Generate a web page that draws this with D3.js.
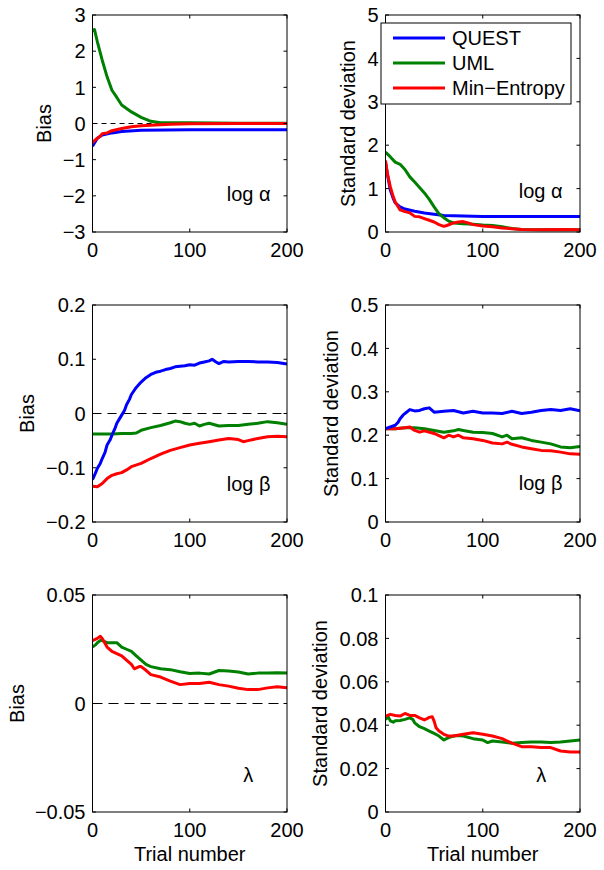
<!DOCTYPE html>
<html><head><meta charset="utf-8">
<script src="https://cdn.jsdelivr.net/npm/d3@7"></script>
<style>body{margin:0;background:#fff}svg{display:block}text{font-family:"Liberation Sans",Arial,Helvetica,sans-serif;fill:#000}</style>
</head><body>
<script>
// ---------- data ----------
const seriesNames = ["QUEST", "UML", "Min\u2212Entropy"];
const xTicks = [0, 100, 200];

// Panel 1: bias, log alpha
const biasAlphaQuestX = [0,3,5,10,20,30,50,100,150,200];
const biasAlphaQuestY = [-0.63,-0.5,-0.41,-0.32,-0.26,-0.22,-0.19,-0.17,-0.17,-0.17];
const biasAlphaUmlX = [0,2,5,10,15,20,25,30,40,50,60,70,80,100,150,200];
const biasAlphaUmlY = [2.55,2.6,2.26,1.75,1.29,0.92,0.72,0.51,0.32,0.17,0.06,0.02,0.02,0.02,0.01,0.01];
const biasAlphaMeX = [0,3,8,10,15,20,30,40,50,60,80,100,150,200];
const biasAlphaMeY = [-0.53,-0.45,-0.35,-0.28,-0.26,-0.2,-0.14,-0.09,-0.065,-0.05,-0.02,-0.01,0,0];

// Panel 2: SD, log alpha
const sdAlphaQuestX = [0,3,5,8,10,15,20,30,40,50,60,80,100,150,200];
const sdAlphaQuestY = [1.6,1.2,0.96,0.77,0.67,0.58,0.53,0.48,0.44,0.41,0.38,0.37,0.36,0.36,0.36];
const sdAlphaUmlX = [0,5,10,15,20,25,30,40,45,50,55,60,65,70,80,90,100,110,120,130,140,160,200];
const sdAlphaUmlY = [1.84,1.73,1.61,1.56,1.44,1.27,1.15,0.9,0.75,0.58,0.42,0.33,0.25,0.21,0.19,0.18,0.16,0.15,0.12,0.08,0.06,0.05,0.05];
const sdAlphaMeX = [0,2,5,8,10,15,20,25,30,35,40,45,50,55,60,63,70,75,80,85,90,100,110,120,140,160,180,200];
const sdAlphaMeY = [1.65,1.34,1.04,0.81,0.69,0.51,0.47,0.44,0.36,0.35,0.31,0.27,0.23,0.17,0.13,0.15,0.21,0.23,0.24,0.21,0.17,0.14,0.12,0.09,0.06,0.05,0.06,0.05];

// Panel 3: bias, log beta
const biasBetaQuestX = [0,3,5,8,10,13,15,18,20,23,25,28,30,33,35,38,40,45,50,55,60,65,70,75,80,85,90,95,100,105,110,115,120,123,127,130,135,140,150,160,170,180,190,200];
const biasBetaQuestY = [-0.122,-0.11,-0.101,-0.092,-0.083,-0.071,-0.058,-0.049,-0.04,-0.028,-0.018,-0.009,-0.003,0.006,0.016,0.026,0.035,0.048,0.058,0.066,0.072,0.076,0.078,0.081,0.083,0.086,0.087,0.088,0.09,0.089,0.093,0.095,0.097,0.1,0.095,0.092,0.096,0.095,0.096,0.096,0.095,0.095,0.094,0.091];
const biasBetaUmlX = [0,10,20,30,40,45,50,60,70,80,85,90,95,100,105,110,115,120,130,140,150,160,170,180,190,200];
const biasBetaUmlY = [-0.038,-0.038,-0.038,-0.037,-0.037,-0.036,-0.031,-0.026,-0.022,-0.017,-0.014,-0.015,-0.018,-0.02,-0.018,-0.023,-0.02,-0.018,-0.023,-0.022,-0.022,-0.02,-0.018,-0.015,-0.017,-0.02];
const biasBetaMeX = [0,5,10,15,20,25,30,35,40,50,60,70,80,90,100,110,120,130,140,150,155,160,170,180,190,200];
const biasBetaMeY = [-0.134,-0.135,-0.129,-0.12,-0.114,-0.111,-0.109,-0.104,-0.098,-0.092,-0.083,-0.075,-0.068,-0.063,-0.058,-0.055,-0.052,-0.049,-0.046,-0.048,-0.052,-0.05,-0.046,-0.043,-0.042,-0.043];

// Panel 4: SD, log beta
const sdBetaQuestX = [0,5,10,13,15,18,20,25,30,35,40,45,50,60,70,80,90,100,110,120,130,140,150,160,170,180,190,200];
const sdBetaQuestY = [0.215,0.219,0.223,0.23,0.238,0.246,0.25,0.259,0.256,0.257,0.261,0.263,0.253,0.255,0.257,0.251,0.255,0.251,0.251,0.25,0.255,0.25,0.253,0.257,0.259,0.257,0.261,0.256];
const sdBetaUmlX = [0,10,20,30,40,50,60,70,75,80,90,100,110,120,125,130,140,150,160,170,180,190,200];
const sdBetaUmlY = [0.215,0.215,0.217,0.217,0.215,0.211,0.207,0.21,0.213,0.211,0.207,0.206,0.204,0.196,0.2,0.192,0.194,0.188,0.184,0.18,0.173,0.171,0.174];
const sdBetaMeX = [0,10,20,25,30,35,40,50,60,65,70,75,80,90,100,110,120,125,130,140,150,160,170,180,190,200];
const sdBetaMeY = [0.215,0.215,0.217,0.219,0.211,0.207,0.21,0.204,0.194,0.2,0.196,0.2,0.194,0.192,0.188,0.182,0.18,0.184,0.179,0.173,0.169,0.165,0.164,0.161,0.157,0.156];

// Panel 5: bias, lambda
const biasLambdaUmlX = [0,3,5,8,10,15,20,25,30,35,40,45,50,55,60,70,80,90,100,110,120,130,140,150,160,170,180,190,200];
const biasLambdaUmlY = [0.026,0.027,0.028,0.029,0.029,0.028,0.028,0.028,0.026,0.025,0.024,0.022,0.020,0.018,0.017,0.016,0.0156,0.0146,0.0138,0.014,0.0136,0.0152,0.015,0.0145,0.0136,0.014,0.014,0.0142,0.014];
const biasLambdaMeX = [0,5,8,10,15,20,25,30,35,40,43,48,50,55,60,70,80,90,100,110,120,130,140,150,160,170,180,190,200];
const biasLambdaMeY = [0.029,0.03,0.031,0.030,0.026,0.024,0.023,0.022,0.020,0.018,0.016,0.017,0.017,0.0153,0.0133,0.0122,0.0103,0.0087,0.0092,0.0092,0.0098,0.0087,0.008,0.007,0.0064,0.0064,0.0072,0.0077,0.0072];

// Panel 6: SD, lambda
const sdLambdaUmlX = [0,3,5,8,10,15,20,25,28,30,35,40,45,50,55,60,65,70,75,80,90,100,105,110,120,130,140,150,160,170,180,190,200];
const sdLambdaUmlY = [0.0427,0.0437,0.042,0.0414,0.042,0.0422,0.0427,0.0434,0.0427,0.0411,0.0393,0.0384,0.0373,0.0362,0.035,0.0332,0.0343,0.035,0.0353,0.035,0.0338,0.0332,0.032,0.0327,0.0323,0.0317,0.032,0.0323,0.0323,0.032,0.0323,0.0327,0.0332];
const sdLambdaMeX = [0,5,10,15,20,25,30,35,40,45,48,50,52,55,60,65,70,80,90,100,110,120,130,140,150,160,170,180,190,200];
const sdLambdaMeY = [0.0442,0.045,0.0445,0.0442,0.0454,0.0445,0.0445,0.0434,0.0424,0.0436,0.0439,0.0419,0.0388,0.0373,0.0358,0.035,0.035,0.0358,0.0365,0.0358,0.035,0.0338,0.0317,0.0301,0.0301,0.0297,0.0297,0.0281,0.0277,0.0277];

// tick values and labels per panel
const yTicks1 = [-3,-2,-1,0,1,2,3];
const yTicks2 = [0,1,2,3,4,5];
const yTicks3 = [-0.2,-0.1,0,0.1,0.2];
const yTicks4 = [0,0.1,0.2,0.3,0.4,0.5];
const yTicks5 = [-0.05,0,0.05];
const yTicks6 = [0,0.02,0.04,0.06,0.08,0.1];
const yLabels = ["Bias","Standard deviation","Bias","Standard deviation","Bias","Standard deviation"];
const paramLabels = ["log \u03b1","log \u03b1","log \u03b2","log \u03b2","\u03bb","\u03bb"];
const paramLabelX = [138,137,138,137,155,155];
const paramLabelY = [-2.14,0.78,-0.143,0.074,-0.036,0.0138];
const xLabel = "Trial number";

// ---------- layout / style ----------
const W = 604, H = 870;
const colors = ["#0000ff", "#008000", "#ff0000"];
const panelLeft = [92.5, 385.5], panelTop = [15, 305, 595];
const pw = 194.5, ph = 217;
const fmt = v => d3.format("~")(v);

const panels = [
  {col:0,row:0,domain:[-3,3],ticks:yTicks1,zero:true,dash:"5,4",labelX:44,
   series:[[biasAlphaQuestX,biasAlphaQuestY,0],[biasAlphaUmlX,biasAlphaUmlY,1],[biasAlphaMeX,biasAlphaMeY,2]]},
  {col:1,row:0,domain:[0,5],ticks:yTicks2,zero:false,labelX:348,legend:true,
   series:[[sdAlphaQuestX,sdAlphaQuestY,0],[sdAlphaUmlX,sdAlphaUmlY,1],[sdAlphaMeX,sdAlphaMeY,2]]},
  {col:0,row:1,domain:[-0.2,0.2],ticks:yTicks3,zero:true,dash:"9,6",labelX:27,
   series:[[biasBetaUmlX,biasBetaUmlY,1],[biasBetaMeX,biasBetaMeY,2],[biasBetaQuestX,biasBetaQuestY,0]]},
  {col:1,row:1,domain:[0,0.5],ticks:yTicks4,zero:false,labelX:331,
   series:[[sdBetaUmlX,sdBetaUmlY,1],[sdBetaMeX,sdBetaMeY,2],[sdBetaQuestX,sdBetaQuestY,0]]},
  {col:0,row:2,domain:[-0.05,0.05],ticks:yTicks5,zero:true,dash:"10,6",labelX:17,xlab:true,
   series:[[biasLambdaUmlX,biasLambdaUmlY,1],[biasLambdaMeX,biasLambdaMeY,2]]},
  {col:1,row:2,domain:[0,0.1],ticks:yTicks6,zero:false,labelX:320,xlab:true,
   series:[[sdLambdaUmlX,sdLambdaUmlY,1],[sdLambdaMeX,sdLambdaMeY,2]]}
];

const svg = d3.select("body").append("svg").attr("width",W).attr("height",H);

panels.forEach((p,i) => {
  const L = panelLeft[p.col], T = panelTop[p.row];
  const x = d3.scaleLinear().domain([0,200]).range([L, L+pw]);
  const y = d3.scaleLinear().domain(p.domain).range([T+ph, T]);
  const g = svg.append("g");
  const cid = "clip"+i;
  g.append("clipPath").attr("id",cid).append("rect").attr("x",L).attr("y",T).attr("width",pw).attr("height",ph);

  if (p.zero) {
    g.append("line").attr("x1",x(0)).attr("x2",x(200)).attr("y1",y(0)).attr("y2",y(0))
      .attr("stroke","#000").attr("stroke-width",1).attr("stroke-dasharray",p.dash);
  }
  const line = d3.line().x(d=>x(d[0])).y(d=>y(d[1]));
  p.series.forEach(([xs,ys,ci]) => {
    g.append("path").datum(xs.map((v,k)=>[v,ys[k]])).attr("d",line)
      .attr("fill","none").attr("stroke",colors[ci]).attr("stroke-width",3)
      .attr("stroke-linejoin","round").attr("clip-path",`url(#${cid})`);
  });

  // box and inward ticks
  g.append("rect").attr("x",L).attr("y",T).attr("width",pw).attr("height",ph)
    .attr("fill","none").attr("stroke","#000").attr("stroke-width",1);
  const tl = 3.5;
  p.ticks.forEach(v => {
    g.append("line").attr("x1",L).attr("x2",L+tl).attr("y1",y(v)).attr("y2",y(v)).attr("stroke","#000");
    g.append("line").attr("x1",L+pw).attr("x2",L+pw-tl).attr("y1",y(v)).attr("y2",y(v)).attr("stroke","#000");
    g.append("text").attr("x",L-7).attr("y",y(v)).attr("dy","0.36em").attr("text-anchor","end")
      .attr("font-size",20).text(fmt(v));
  });
  xTicks.forEach(v => {
    g.append("line").attr("x1",x(v)).attr("x2",x(v)).attr("y1",T+ph).attr("y2",T+ph-tl).attr("stroke","#000");
    g.append("line").attr("x1",x(v)).attr("x2",x(v)).attr("y1",T).attr("y2",T+tl).attr("stroke","#000");
    g.append("text").attr("x",x(v)).attr("y",T+ph+25).attr("text-anchor","middle")
      .attr("font-size",20).text(fmt(v));
  });

  // y label
  g.append("text").attr("transform",`translate(${p.labelX},${T+ph/2}) rotate(-90)`)
    .attr("text-anchor","middle").attr("dy","0.36em").attr("font-size",20).text(yLabels[i]);
  if (p.xlab) {
    g.append("text").attr("x",L+pw/2).attr("y",T+ph+49).attr("text-anchor","middle")
      .attr("font-size",20).text(xLabel);
  }
  // parameter annotation
  g.append("text").attr("x",x(paramLabelX[i])).attr("y",y(paramLabelY[i]))
    .attr("font-size",20).text(paramLabels[i]);

  if (p.legend) {
    const lg = g.append("g");
    lg.append("rect").attr("x",381).attr("y",23).attr("width",190).attr("height",81)
      .attr("fill","#fff").attr("stroke","#000").attr("stroke-width",1);
    seriesNames.forEach((n,k) => {
      const yy = 38 + k*25;
      lg.append("line").attr("x1",393).attr("x2",445).attr("y1",yy).attr("y2",yy)
        .attr("stroke",colors[k]).attr("stroke-width",3);
      lg.append("text").attr("x",452).attr("y",yy).attr("dy","0.36em").attr("font-size",20).text(n);
    });
  }
});
</script>
</body></html>
